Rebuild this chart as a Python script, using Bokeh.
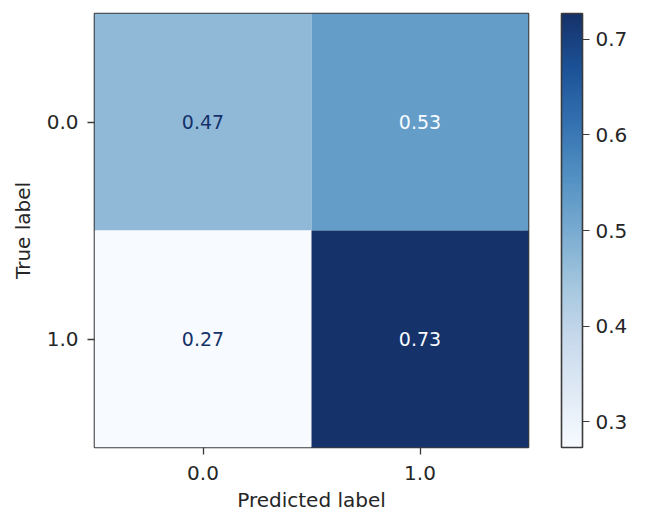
import numpy as np
from bokeh.plotting import figure
from bokeh.models import (ColumnDataSource, LinearColorMapper, ColorBar, FixedTicker,
                          Label, PrintfTickFormatter, Range1d)
from bokeh.core.properties import value
from bokeh.embed import file_html
from bokeh.resources import INLINE

# Data
true_labels = [0, 0, 1, 1]
pred_labels = [0, 1, 0, 1]
cell_values = [0.47, 0.53, 0.273, 0.727]
tick_labels = {0: "0.0", 1: "1.0"}
cbar_ticks = [0.3, 0.4, 0.5, 0.6, 0.7]
title_text = "Normalized"
xlabel = "Predicted label"
ylabel = "True label"

FONT = "DejaVu Sans"

# "Blues"-like colour map anchors (light -> dark)
anchors = ["#f7fbff", "#e0eaf5", "#c8d9ec", "#a3c6de", "#79abd0",
           "#5290c3", "#3471b1", "#1c5297", "#15326a"]
def hex2rgb(h):
    return [int(h[i:i + 2], 16) for i in (1, 3, 5)]
arr = np.array([hex2rgb(h) for h in anchors], dtype=float)
pos = np.linspace(0, 1, len(anchors))
tt = np.linspace(0, 1, 256)
palette = ["#%02x%02x%02x" % tuple(int(round(np.interp(t, pos, arr[:, k]))) for k in range(3))
           for t in tt]

vmin, vmax = min(cell_values), max(cell_values)
thresh = (vmin + vmax) / 2
mapper = LinearColorMapper(palette=palette, low=vmin, high=vmax)

txt_colors = ["#15326a" if v < thresh else "#f7fbff" for v in cell_values]
src = ColumnDataSource(dict(x=pred_labels, y=true_labels, v=cell_values,
                            t=["%.2f" % v for v in cell_values], tc=txt_colors))

p = figure(frame_width=434, frame_height=434, output_backend="svg", toolbar_location=None,
           x_range=Range1d(-0.5, 1.5), y_range=Range1d(1.5, -0.5),
           min_border_left=94, min_border_top=25, min_border_right=10, min_border_bottom=8)
p.styles = {"margin-top": "-12px"}

p.rect(x="x", y="y", width=1, height=1, source=src,
       fill_color={"field": "v", "transform": mapper}, line_color=None)
p.text(x="x", y="y", text="t", source=src, text_color="tc", text_align="center",
       text_baseline="middle", text_font=value(FONT), text_font_size="19px")

p.grid.visible = False
p.outline_line_color = "#3a3a3a"
p.outline_line_width = 1.6

for ax in (p.xaxis[0], p.yaxis[0]):
    ax.ticker = FixedTicker(ticks=[0, 1])
    ax.major_label_overrides = tick_labels
    ax.major_label_text_font = FONT
    ax.major_label_text_font_size = "20px"
    ax.major_label_text_color = "#262626"
    ax.axis_label_text_font = FONT
    ax.axis_label_text_font_size = "20px"
    ax.axis_label_text_font_style = "normal"
    ax.axis_label_text_color = "#262626"
    ax.axis_line_color = None
    ax.major_tick_out = 7
    ax.major_tick_in = 0
    ax.major_tick_line_color = "#3a3a3a"
    ax.major_tick_line_width = 1.3
    ax.minor_tick_line_color = None
p.xaxis.axis_label = xlabel
p.yaxis.axis_label = ylabel
p.yaxis.major_label_orientation = "horizontal"
p.xaxis.major_label_standoff = 11
p.yaxis.major_label_standoff = 9
p.xaxis.axis_label_standoff = 5
p.yaxis.axis_label_standoff = 9

cb = ColorBar(color_mapper=mapper, ticker=FixedTicker(ticks=cbar_ticks),
              formatter=PrintfTickFormatter(format="%.1f"),
              width=21, padding=0, location=(33, 0), bar_line_color="#3a3a3a", bar_line_width=1.6,
              major_tick_out=7, major_tick_in=0, major_tick_line_color="#3a3a3a",
              minor_tick_line_color=None, label_standoff=6,
              major_label_text_font=FONT, major_label_text_font_size="20px",
              major_label_text_color="#262626", border_line_color=None,
              background_fill_alpha=0)
p.add_layout(cb, "right")

p.add_layout(Label(x=0.5, y=-0.546, text=title_text, text_align="center",
                   text_baseline="alphabetic", text_font=FONT, text_font_size="22px",
                   text_color="#262626"))

open("out.html", "w").write(file_html(p, INLINE))
